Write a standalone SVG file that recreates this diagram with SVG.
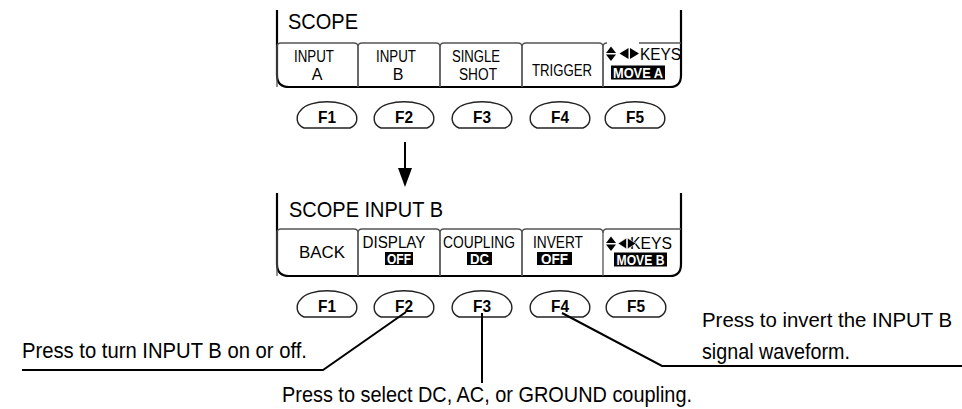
<svg xmlns="http://www.w3.org/2000/svg" width="962" height="409" viewBox="0 0 962 409">
<style>
text{font-family:"Liberation Sans",Arial,Helvetica,sans-serif;fill:#000}
.big{font-size:22px}
.mid{font-size:20.4px}
.tab{font-size:16px;text-anchor:middle}
.key{font-size:16px}
.inv{font-size:14px;font-weight:bold;fill:#fff;text-anchor:middle}
.fk{font-size:17px;font-weight:bold;text-anchor:middle}
.frame{fill:none;stroke:#000;stroke-width:2.2}
.tabo{fill:none;stroke:#555;stroke-width:1.3}
.btn{fill:#fff;stroke:#222;stroke-width:1.4}
.lead{fill:none;stroke:#000;stroke-width:2}
.ico{fill:#000}
</style>
<defs>
<path id="btn" class="btn" d="M-23,128 C-31,125 -32,116 -26,110 C-18,99 18,99 26,110 C32,116 31,125 23,128 Z"/>
</defs>

<g id="panel-scope">
<path class="frame" d="M277,10 V75 Q277,87 289,87 H670 Q681,87 681,75 V10"/>
<text class="big" x="288" y="29" textLength="70" lengthAdjust="spacingAndGlyphs">SCOPE</text>
<path class="tabo" d="M277,87 V47 Q277,43 281,43 H354 Q358,43 358,47 V87"/>
<path class="tabo" d="M358,87 V47 Q358,43 362,43 H436 Q440,43 440,47 V87"/>
<path class="tabo" d="M440,87 V47 Q440,43 444,43 H518 Q522,43 522,47 V87"/>
<path class="tabo" d="M522,87 V47 Q522,43 526,43 H599 Q603,43 603,47 V87"/>
<path class="tabo" d="M603,87 V47 Q603,43 607,43"/>
<path class="tabo" d="M639,43 H681"/>
<text class="tab" x="314" y="62" textLength="40" lengthAdjust="spacingAndGlyphs">INPUT</text>
<text class="tab" x="317" y="80">A</text>
<text class="tab" x="396" y="62" textLength="40" lengthAdjust="spacingAndGlyphs">INPUT</text>
<text class="tab" x="398" y="80">B</text>
<text class="tab" x="476" y="62" textLength="48" lengthAdjust="spacingAndGlyphs">SINGLE</text>
<text class="tab" x="478" y="80" textLength="38" lengthAdjust="spacingAndGlyphs">SHOT</text>
<text class="tab" x="562" y="76" textLength="60" lengthAdjust="spacingAndGlyphs">TRIGGER</text>
<polygon class="ico" points="606,53 611,46.5 616,53"/>
<polygon class="ico" points="606,54.5 611,61 616,54.5"/>
<polygon class="ico" points="619.5,53.5 628.5,48 628.5,59"/>
<polygon class="ico" points="630,48 639,53.5 630,59"/>
<text class="key" x="640" y="60" textLength="41" lengthAdjust="spacingAndGlyphs">KEYS</text>
<rect x="611" y="65.5" width="54" height="14" fill="#000"/>
<text class="inv" x="638" y="77.5" textLength="50" lengthAdjust="spacingAndGlyphs">MOVE A</text>
</g>

<g id="keys-top">
<use href="#btn" x="327"/>
<use href="#btn" x="404"/>
<use href="#btn" x="482"/>
<use href="#btn" x="560"/>
<use href="#btn" x="635"/>
<text class="fk" x="327" y="122.5" textLength="18" lengthAdjust="spacingAndGlyphs">F1</text>
<text class="fk" x="404" y="122.5" textLength="18" lengthAdjust="spacingAndGlyphs">F2</text>
<text class="fk" x="482" y="122.5" textLength="18" lengthAdjust="spacingAndGlyphs">F3</text>
<text class="fk" x="560" y="122.5" textLength="18" lengthAdjust="spacingAndGlyphs">F4</text>
<text class="fk" x="635" y="122.5" textLength="18" lengthAdjust="spacingAndGlyphs">F5</text>
</g>

<g id="panel-scope-input-b">
<path class="frame" d="M277,193 V264 Q277,276 289,276 H670 Q681,276 681,264 V193"/>
<text class="big" x="289" y="217" textLength="154" lengthAdjust="spacingAndGlyphs">SCOPE INPUT B</text>
<path class="tabo" d="M277,276 V233 Q277,229 281,229 H354 Q358,229 358,233 V276"/>
<path class="tabo" d="M358,276 V233 Q358,229 362,229 H436 Q440,229 440,233 V276"/>
<path class="tabo" d="M440,276 V233 Q440,229 444,229 H518 Q522,229 522,233 V276"/>
<path class="tabo" d="M522,276 V233 Q522,229 526,229 H599 Q603,229 603,233 V276"/>
<path class="tabo" d="M603,233 Q603,229 607,229 H681"/>
<text class="tab" x="322" y="258" textLength="46" lengthAdjust="spacingAndGlyphs">BACK</text>
<text class="tab" x="394" y="248" textLength="63" lengthAdjust="spacingAndGlyphs">DISPLAY</text>
<rect x="385" y="252" width="28" height="13" fill="#000"/>
<text class="inv" x="399" y="263.5" textLength="24" lengthAdjust="spacingAndGlyphs">OFF</text>
<text class="tab" x="479" y="248" textLength="72" lengthAdjust="spacingAndGlyphs">COUPLING</text>
<rect x="467" y="252" width="25" height="13" fill="#000"/>
<text class="inv" x="479.5" y="263.5" textLength="19" lengthAdjust="spacingAndGlyphs">DC</text>
<text class="tab" x="558" y="248" textLength="50" lengthAdjust="spacingAndGlyphs">INVERT</text>
<rect x="537" y="252" width="35" height="13" fill="#000"/>
<text class="inv" x="554.5" y="263.5" textLength="27" lengthAdjust="spacingAndGlyphs">OFF</text>
<text class="key" x="630" y="249" textLength="42" lengthAdjust="spacingAndGlyphs">KEYS</text>
<polygon class="ico" points="606,243 611,236.5 616,243"/>
<polygon class="ico" points="606,244.5 611,251 616,244.5"/>
<polygon class="ico" points="618,243.5 626.5,238 626.5,249" stroke="#fff" stroke-width="0.6"/>
<polygon class="ico" points="627.5,238 636,243.5 627.5,249" stroke="#fff" stroke-width="0.6"/>
<rect x="614" y="252.5" width="53" height="14" fill="#000"/>
<text class="inv" x="640.5" y="264.5" textLength="48" lengthAdjust="spacingAndGlyphs">MOVE B</text>
</g>

<g id="keys-bottom">
<use href="#btn" x="327" y="189"/>
<use href="#btn" x="404" y="189"/>
<use href="#btn" x="482" y="189"/>
<use href="#btn" x="560" y="189"/>
<use href="#btn" x="636" y="189"/>
<text class="fk" x="327" y="311.5" textLength="18" lengthAdjust="spacingAndGlyphs">F1</text>
<text class="fk" x="404" y="311.5" textLength="18" lengthAdjust="spacingAndGlyphs">F2</text>
<text class="fk" x="482" y="311.5" textLength="18" lengthAdjust="spacingAndGlyphs">F3</text>
<text class="fk" x="560" y="311.5" textLength="18" lengthAdjust="spacingAndGlyphs">F4</text>
<text class="fk" x="636" y="311.5" textLength="18" lengthAdjust="spacingAndGlyphs">F5</text>
</g>

<g id="connectors">
<line class="lead" x1="405" y1="142" x2="405" y2="170"/>
<polygon points="398,168 412,168 405,187" fill="#000"/>
<polyline class="lead" points="406,312 323,370 22,370"/>
<line class="lead" x1="482" y1="313" x2="482" y2="383"/>
<polyline class="lead" points="562,313 662,366 962,366"/>
</g>

<g id="callouts">
<text class="big" x="22" y="358" textLength="285" lengthAdjust="spacingAndGlyphs">Press to turn INPUT B on or off.</text>
<text class="big" x="282" y="402" textLength="410" lengthAdjust="spacingAndGlyphs">Press to select DC, AC, or GROUND coupling.</text>
<text class="mid" x="702" y="327">Press to invert the INPUT B</text>
<text class="big" x="702" y="359" textLength="148" lengthAdjust="spacingAndGlyphs">signal waveform.</text>
</g>
</svg>
